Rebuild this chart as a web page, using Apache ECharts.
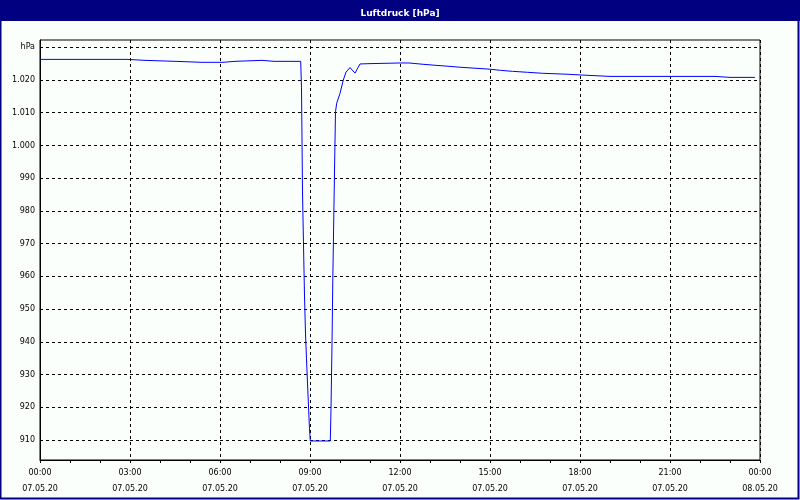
<!DOCTYPE html>
<html>
<head>
<meta charset="utf-8">
<script src="https://cdn.jsdelivr.net/npm/echarts@6/dist/echarts.min.js"></script>
<style>html,body{margin:0;padding:0;background:#fbfffb;}#c{width:800px;height:500px;}</style>
</head>
<body>
<div id="c"></div>
<script>
// Hours since 07.05.20 00:00
const hours = [0, 1.5, 2.9, 3.5, 4.5, 5.4, 6.1, 6.5, 7.4, 7.8, 8.69,
  8.717, 8.75, 8.783, 8.817, 8.85, 8.883, 8.917, 8.95, 8.983, 9.01,
  9.677, 9.70, 9.733, 9.76, 9.793, 9.827, 9.85, 9.89, 10.0, 10.11, 10.2, 10.333, 10.5, 10.667,
  11.0, 12.0, 12.3, 12.77, 13.17, 13.6, 14.0, 14.5, 15.0, 15.35, 15.75, 16.25, 16.75, 17.6, 18.2,
  19.0, 21.0, 22.5, 23.0, 23.83];
const pressure = [1026.3, 1026.3, 1026.3, 1026.0, 1025.7, 1025.4, 1025.4, 1025.7, 1026.0, 1025.7, 1025.7,
  1017.6, 985.8, 969.9, 954.0, 942.4, 934.8, 927.4, 920.4, 913.4, 909.7,
  909.7, 919.5, 939.0, 958.9, 978.1, 997.7, 1010.3, 1012.9, 1015.9, 1020.0, 1022.4, 1023.8, 1022.1, 1024.9,
  1025.0, 1025.2, 1025.2, 1024.8, 1024.5, 1024.2, 1023.9, 1023.6, 1023.3, 1022.95, 1022.65, 1022.35, 1022.05, 1021.75, 1021.45,
  1021.1, 1021.1, 1021.1, 1020.8, 1020.8];
const yTicks = [910, 920, 930, 940, 950, 960, 970, 980, 990, 1000, 1010, 1020, 1030];
const xTickHours = [0, 3, 6, 9, 12, 15, 18, 21, 24];
const xTickDates = ['07.05.20', '07.05.20', '07.05.20', '07.05.20', '07.05.20', '07.05.20', '07.05.20', '07.05.20', '08.05.20'];
const titleText = 'Luftdruck [hPa]';
const unitText = 'hPa';

const chart = echarts.init(document.getElementById('c'), null, {renderer: 'canvas'});
const font = 'DejaVu Sans';
function fmtY(v) {
  if (v === 1030) return unitText;
  const s = String(Math.round(v));
  return s.length > 3 ? s.slice(0, s.length - 3) + '.' + s.slice(-3) : s;
}
function fmtX(v) {
  const i = xTickHours.indexOf(v);
  if (i < 0) return '';
  const hh = String(v % 24).padStart(2, '0');
  return hh + ':00\n' + xTickDates[i];
}
chart.setOption({
  animation: false,
  backgroundColor: '#fbfffb',
  graphic: [
    {type: 'rect', z: 0, shape: {x: 0, y: 0, width: 800, height: 21}, style: {fill: '#000080'}},
    {type: 'rect', z: 0, shape: {x: 0.5, y: 0.5, width: 798, height: 498}, style: {fill: null, stroke: '#000080', lineWidth: 2}}
  ],
  title: {
    text: titleText, left: 'center', top: 4, z: 10,
    textStyle: {color: '#ffffff', fontFamily: font, fontWeight: 'bold', fontSize: 9}
  },
  grid: {left: 40, right: 40, top: 40, bottom: 40, show: true, borderColor: '#000', borderWidth: 1, backgroundColor: 'transparent'},
  xAxis: {
    type: 'value', min: 0, max: 24, interval: 3,
    axisLine: {show: true, lineStyle: {color: '#000', width: 1}},
    axisTick: {show: true, length: 3, lineStyle: {color: '#000'}},
    minorTick: {show: true, splitNumber: 3, length: 3, lineStyle: {color: '#000'}},
    splitLine: {show: true, lineStyle: {color: '#000', type: [3, 3], width: 1}},
    axisLabel: {formatter: fmtX, color: '#000', fontFamily: font, fontSize: 8, lineHeight: 16, margin: 5,
      showMinLabel: true, showMaxLabel: true}
  },
  yAxis: {
    type: 'value', min: 903.89, max: 1032.22,
    axisLine: {show: true, lineStyle: {color: '#000', width: 1}},
    axisTick: {show: false, customValues: yTicks},
    splitLine: {show: true, lineStyle: {color: '#000', type: [3, 3], width: 1}},
    axisLabel: {customValues: yTicks, formatter: fmtY, color: '#000', fontFamily: font, fontSize: 8, margin: 5}
  },
  series: [{
    type: 'line',
    data: hours.map((h, i) => [h, pressure[i]]),
    showSymbol: false,
    lineStyle: {color: '#0000ff', width: 1},
    z: 5
  }]
});
</script>
</body>
</html>
